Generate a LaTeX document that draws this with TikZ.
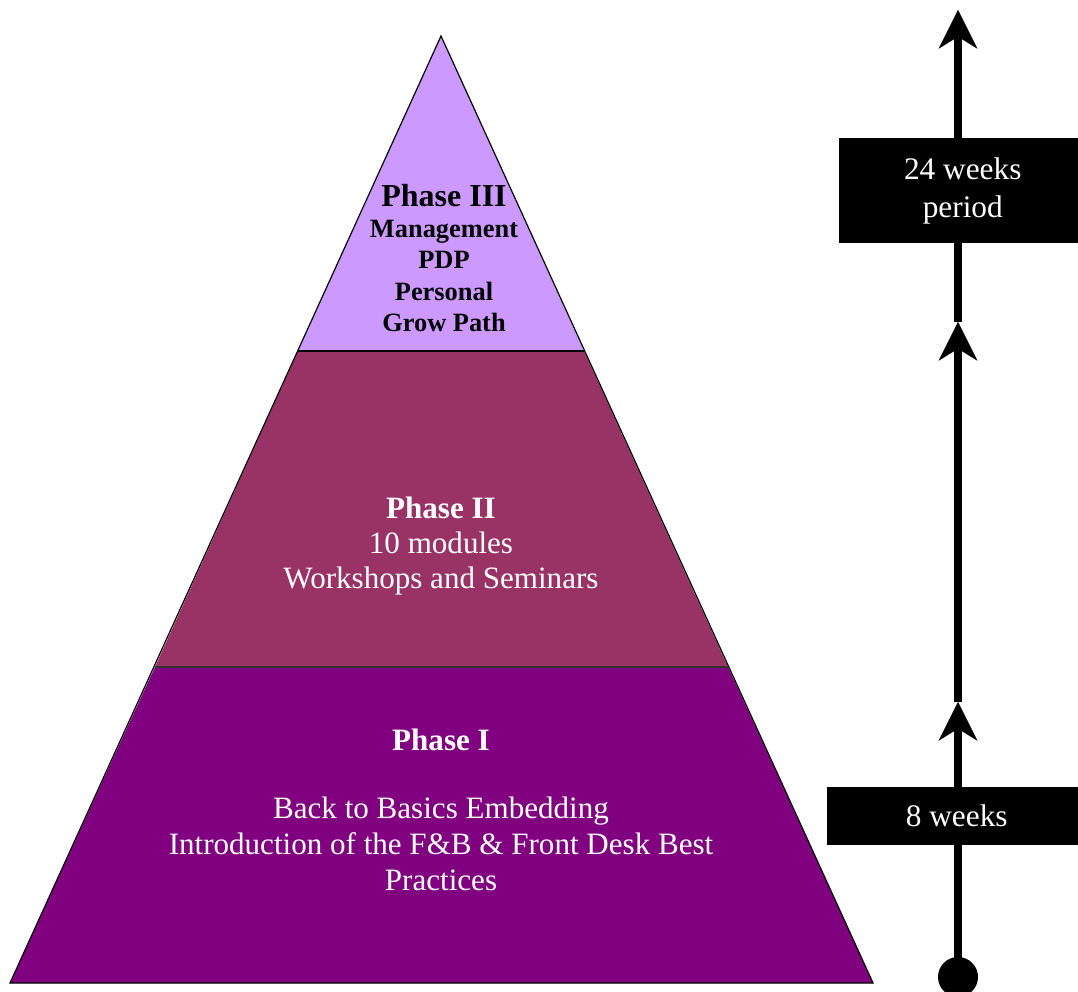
\documentclass[tikz,border=0pt]{standalone}
\usepackage{fontspec}
\setmainfont{Liberation Serif}
\usetikzlibrary{arrows.meta}
\definecolor{ptop}{HTML}{CC99FF}
\definecolor{pmid}{HTML}{993366}
\definecolor{pbot}{HTML}{800080}
\tikzset{
  band/.style={draw=black, line width=0.9pt, line join=miter},
  flow/.style={line width=6pt, -{Stealth[length=29pt,width=29pt,inset=9pt,line width=0.1pt]}},
  blackbox/.style={fill=black, text=white, inner sep=0pt, anchor=north west, align=center, font=\fontsize{23.5}{28.5}\selectfont},
  bandtext/.style={align=center, font=\fontsize{23.3}{27}\selectfont},
}
\begin{document}
\begin{tikzpicture}[x=0.75pt,y=-0.75pt]
\useasboundingbox (0,0) rectangle (1078,992);
% pyramid corners
\coordinate (apex) at (441,36);
\coordinate (L1) at (298,351);
\coordinate (R1) at (584,351);
\coordinate (L2) at (155,667);
\coordinate (R2) at (728,667);
\coordinate (BL) at (10,983);
\coordinate (BR) at (873,983);
\fill[ptop] (apex) -- (R1) -- (L1) -- cycle;
\fill[pmid] (L1) -- (R1) -- (R2) -- (L2) -- cycle;
\fill[pbot] (L2) -- (R2) -- (BR) -- (BL) -- cycle;
\draw[band] (apex) -- (BR) -- (BL) -- cycle;
\draw[band, line width=1.5pt] (L1) -- (R1);
\draw[band, line width=1.5pt, draw=black!80] (L2) -- (R2);
% texts
\node[bandtext, font=\bfseries\fontsize{19.8}{23.3}\selectfont] (t3) at (444,258)
  {{\fontsize{24}{23.3}\selectfont Phase III}\\Management\\PDP\\Personal\\Grow Path};
\node[bandtext, text=white, font=\fontsize{23.3}{26}\selectfont] (t2) at (441,546)
  {\textbf{Phase II}\\10 modules\\Workshops and Seminars};
\node[bandtext, text=white] (t1) at (441,810)
  {\textbf{Phase I}\\[24pt]Back to Basics Embedding\\Introduction of the F\&B \& Front Desk Best\\Practices};
% timeline
\coordinate (start) at (958,977);
\coordinate (tipA) at (958,702);
\coordinate (tipB) at (958,322);
\coordinate (tipC) at (958,10);
\draw[flow] (start) -- (tipA);
\draw[flow] (tipA) -- (tipB);
\draw[flow] (tipB) -- (tipC);
\fill (start) circle[radius=15pt];
\node[blackbox, minimum width=179.25pt, minimum height=78.75pt] (b24) at (839,138) {\hspace*{6pt}24 weeks\\\hspace*{6pt}period};
\node[blackbox, minimum width=188.25pt, minimum height=43.5pt] (b8) at (827,787) {\hspace*{6pt}8 weeks};
\end{tikzpicture}
\end{document}
